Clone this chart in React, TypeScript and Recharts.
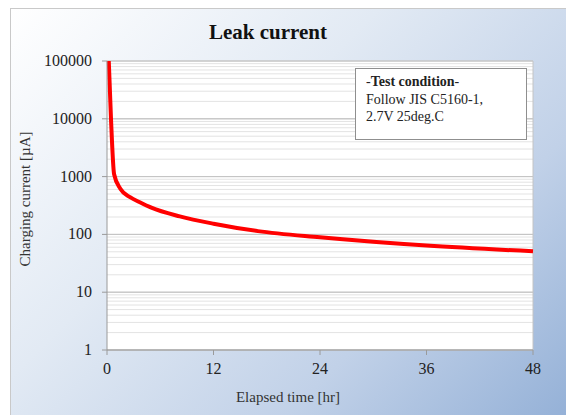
import { LineChart, Line, XAxis, YAxis, CartesianGrid, ReferenceLine } from 'recharts'

const hours = [0.2, 0.45, 0.8, 1.5, 2.6, 3.7, 5, 8.2, 12, 17, 24, 36, 48]
const currentUA = [100000, 10000, 1100, 616, 441, 360, 290, 205, 153, 114, 89, 64, 51]

const xTicks = [0, 12, 24, 36, 48]
const yTicks = [1, 10, 100, 1000, 10000, 100000]
const minorTicks = [1, 10, 100, 1000, 10000].flatMap((d) => [2, 3, 4, 5, 6, 7, 8, 9].map((m) => d * m))

const data = hours.map((h, i) => ({ h, v: currentUA[i] }))

const serif = "'Liberation Serif', 'DejaVu Serif', serif"

function TickText(props: any) {
  const { x, y, payload, anchor, dy } = props
  return (
    <text x={x} y={y} dy={dy} textAnchor={anchor} fill="#222" fontSize={16} style={{ fontFamily: serif }}>
      {payload.value}
    </text>
  )
}

export default function App() {
  return (
    <div style={{ position: 'absolute', left: 0, top: 0, width: 566, height: 415, overflow: 'hidden', fontFamily: serif }}>
      <div
        style={{
          position: 'absolute',
          left: 10,
          top: 8,
          width: 600,
          height: 450,
          border: '1px solid #c9c9c9',
          background: 'linear-gradient(135deg, #ffffff 0%, #e2eaf4 35%, #c1d1e8 65%, #87a7d2 100%)',
        }}
      />
      <LineChart
        width={566}
        height={415}
        data={data}
        margin={{ top: 61, right: 33, left: 47, bottom: 35 }}
        style={{ position: 'absolute', left: 0, top: 0, fontFamily: serif }}
      >
        <CartesianGrid vertical={false} fill="#ffffff" stroke="#c8c8c8" />
        {minorTicks.map((t) => (
          <ReferenceLine key={t} y={t} stroke="#e3e3e3" strokeWidth={1} />
        ))}
        {yTicks.map((t) => (
          <ReferenceLine key={'M' + t} y={t} stroke="#c4c4c4" strokeWidth={1} />
        ))}
        <ReferenceLine x={48} stroke="#c4c4c4" />
        <XAxis
          dataKey="h"
          type="number"
          domain={[0, 48]}
          ticks={xTicks}
          height={30}
          stroke="#9a9a9a"
          tickSize={5}
          tick={(p: any) => <TickText {...p} anchor="middle" dy={15} />}
          tickMargin={4}
        />
        <YAxis
          dataKey="v"
          scale="log"
          domain={[1, 100000]}
          ticks={yTicks}
          allowDataOverflow
          width={60}
          stroke="#9a9a9a"
          tickSize={5}
          tick={(p: any) => <TickText {...p} x={p.x - 4} anchor="end" dy={5} />}
          tickMargin={6}
        />
        <Line type="monotone" dataKey="v" stroke="#ff0000" strokeWidth={4} dot={false} isAnimationActive={false} />
      </LineChart>
      <div
        style={{
          position: 'absolute',
          left: 168,
          top: 20,
          width: 200,
          textAlign: 'center',
          fontSize: 21,
          fontWeight: 'bold',
          color: '#111',
          fontFamily: serif,
        }}
      >
        Leak current
      </div>
      <div
        style={{
          position: 'absolute',
          left: 25,
          top: 199,
          transform: 'translate(-50%, -50%) rotate(-90deg)',
          whiteSpace: 'nowrap',
          fontSize: 15,
          color: '#333',
          fontFamily: serif,
        }}
      >
        Charging current [µA]
      </div>
      <div
        style={{
          position: 'absolute',
          left: 188,
          top: 389,
          width: 200,
          textAlign: 'center',
          fontSize: 15,
          color: '#333',
          fontFamily: serif,
        }}
      >
        Elapsed time [hr]
      </div>
      <div
        style={{
          position: 'absolute',
          left: 355,
          top: 68,
          width: 160,
          height: 61,
          padding: '4px 0 5px 10px',
          background: '#fff',
          border: '1px solid #8f8f8f',
          fontSize: 14,
          lineHeight: '17.5px',
          color: '#222',
          fontFamily: serif,
        }}
      >
        <div>
          -<b>Test condition</b>-
        </div>
        <div>Follow JIS C5160-1,</div>
        <div>2.7V 25deg.C</div>
      </div>
    </div>
  )
}
